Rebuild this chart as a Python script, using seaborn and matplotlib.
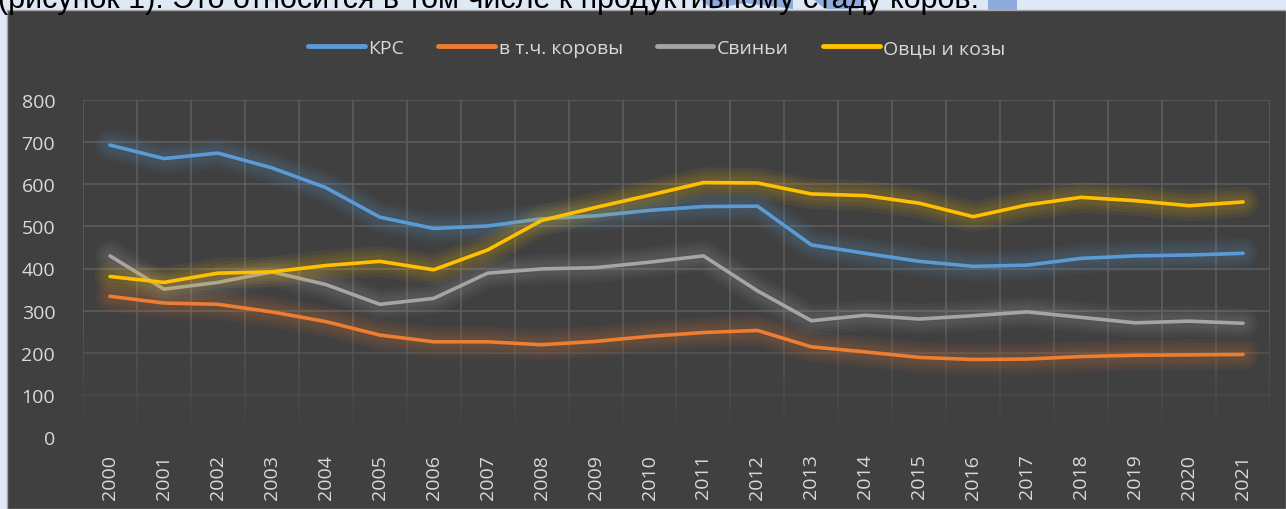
import numpy as np
import pandas as pd
import seaborn as sns
import matplotlib.pyplot as plt
import matplotlib.patheffects as pe
from matplotlib.colors import to_rgba
from matplotlib.patches import Rectangle, Polygon

years = list(range(2000, 2022))

krs = [693, 661, 674, 639, 592, 522, 495, 501, 518, 525, 538, 547, 548, 456, 436, 417, 405, 408, 424, 430, 432, 436]
cows = [334, 318, 315, 297, 274, 242, 226, 226, 219, 227, 239, 248, 253, 214, 202, 189, 184, 185, 191, 194, 195, 196]
pigs = [430, 351, 367, 392, 362, 315, 329, 389, 399, 402, 415, 430, 347, 276, 289, 280, 288, 297, 284, 271, 275, 270]
sheep = [381, 367, 389, 392, 407, 417, 397, 444, 514, 545, 574, 604, 603, 577, 573, 555, 523, 551, 569, 561, 549, 558]

labels = ['КРС', 'в т.ч. коровы', 'Свиньи', 'Овцы и козы']
colors = ['#5b9bd5', '#ed7d31', '#a5a5a5', '#ffc000']

rows = []
for name, vals in zip(labels, [krs, cows, pigs, sheep]):
    for y, v in zip(years, vals):
        rows.append([y, v, name])
df = pd.DataFrame(rows, columns=['year', 'value', 'series'])

sns.set_theme(style='dark')
plt.rcParams['font.family'] = ['Open Sans', 'DejaVu Sans']

W, H = 1286, 510
fig = plt.figure(figsize=(W / 100, H / 100), dpi=100)
fig.patch.set_facecolor('#dfe9f5')

# dark chart background
fig.patches.append(Rectangle((7 / W, 0), 1 - 7 / W, 1 - 11 / H, transform=fig.transFigure,
                             facecolor='#404040', edgecolor='#a6a6a6', linewidth=1, zorder=-2))

# piece of document text above the chart
hl = '#8faadc'
for pts in ([(700, 0), (793, 0), (793, 10), (745, 4), (712, 10)],
            [(813, 0), (868, 0), (858, 10), (825, 10)],
            [(988, 0), (1017, 0), (1017, 11), (988, 11)]):
    fig.patches.append(Polygon([(x / W, 1 - y / H) for x, y in pts], closed=True,
                               transform=fig.transFigure, facecolor=hl, edgecolor='none', zorder=-2))
fig.text(-2 / W, 1 - 8 / H, '(рисунок 1). Это относится в том числе к продуктивному стаду коров.',
         fontsize=22, color='black', va='baseline', ha='left', family=['Liberation Sans', 'DejaVu Sans'],
         zorder=-1)

ax = fig.add_axes([83 / W, (H - 438) / H, (1270 - 83) / W, (438 - 101) / H])
ax.set_facecolor('#404040')

sns.lineplot(data=df, x='year', y='value', hue='series', hue_order=labels,
             palette=colors, linewidth=2.6, ax=ax, legend=True, zorder=3)

for line, c in zip(ax.lines, colors):
    line.set_solid_capstyle('round')
    line.set_path_effects([pe.Stroke(linewidth=w, foreground=c, alpha=0.06) for w in (22, 17, 13, 9)]
                          + [pe.Normal()])

ax.set_xlim(1999.5, 2021.5)
ax.set_ylim(0, 800)
ax.set_yticks(range(0, 801, 100))
ax.set_xticks(years)
ax.set_xticklabels([str(y) for y in years], rotation=90)
ax.grid(False)

# gridlines that fade out towards the bottom, like the Excel gradient grid
grid_c = '#5c5c5c'
for lvl in ax.get_yticks():
    ax.axhline(lvl, color=grid_c, linewidth=1.2, alpha=min(1.0, lvl / 300), zorder=1)
bounds = [y - 0.5 for y in years] + [years[-1] + 0.5]
steps = np.linspace(0, 300, 16)
for b in bounds:
    ax.vlines(b, 300, 800, color=grid_c, linewidth=1.2, zorder=1)
    segs_c = [to_rgba(grid_c, (lo + hi) / 600) for lo, hi in zip(steps[:-1], steps[1:])]
    ax.vlines([b] * (len(steps) - 1), steps[:-1], steps[1:], colors=segs_c, linewidth=1.2, zorder=1)

ax.tick_params(axis='both', which='both', length=0, labelsize=14, labelcolor='#d9d9d9')
ax.tick_params(axis='y', pad=20)
ax.tick_params(axis='x', pad=12)
ax.set_xlabel('')
ax.set_ylabel('')
for s in ax.spines.values():
    s.set_visible(False)

handles, labs = ax.get_legend_handles_labels()
ax.get_legend().remove()
leg = fig.legend(handles, labs, loc='center', bbox_to_anchor=(657 / W, 1 - 49 / H), ncol=4,
                 frameon=False, fontsize=14, labelcolor='#d9d9d9', handlelength=2.9,
                 handletextpad=0.2, columnspacing=1.75)
for h in leg.get_lines():
    h.set_linewidth(3.5)
    h.set_path_effects([])

fig.savefig('out.png', dpi=100, facecolor=fig.get_facecolor())
